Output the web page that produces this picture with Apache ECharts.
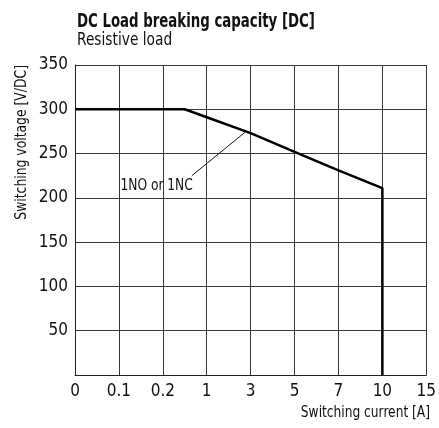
<!DOCTYPE html>
<html>
<head>
<meta charset="utf-8">
<script src="https://cdn.jsdelivr.net/npm/echarts@6/dist/echarts.min.js"></script>
<style>
html,body{margin:0;padding:0;background:#fff;}
#c{width:439px;height:428px;}
</style>
</head>
<body>
<div id="c"></div>
<script>
// Category tick labels on the x axis (evenly spaced, non-linear)
var xTickLabels = ['0', '0.1', '0.2', '1', '3', '5', '7', '10', '15'];
// Curve points: [x position (tick index), voltage V/DC]
var curveX = [0, 2.5, 3, 4, 5, 6, 7, 7];
var curveY = [300, 300, 291, 273, 252, 231, 211, 0];
// Annotation leader line points and label
var leaderX = [2.66, 3.87];
var leaderY = [225, 274];
var annotationText = '1NO or 1NC';
var titleText = 'DC Load breaking capacity [DC]';
var subtitleText = 'Resistive load';
var yAxisTitle = 'Switching voltage [V/DC]';
var xAxisTitle = 'Switching current [A]';

var FONT = '"DejaVu Sans Condensed", "DejaVu Sans", sans-serif';

var curve = curveX.map(function (x, i) { return [x, curveY[i]]; });
var leader = leaderX.map(function (x, i) { return [x, leaderY[i]]; });

var chart = echarts.init(document.getElementById('c'), null, {renderer: 'canvas'});
chart.setOption({
  animation: false,
  backgroundColor: '#fff',
  grid: {left: 75, right: 9, top: 65, bottom: 53, containLabel: false},
  xAxis: {
    type: 'value',
    min: 0, max: 8, interval: 1,
    axisLine: {show: true, lineStyle: {color: '#222', width: 1}},
    axisTick: {show: false},
    splitLine: {show: true, lineStyle: {color: '#383838', width: 1}},
    axisLabel: {
      margin: 8,
      fontFamily: FONT, fontSize: 17, color: '#111',
      formatter: function (v) { return xTickLabels[Math.round(v)]; }
    }
  },
  yAxis: {
    type: 'value',
    min: 0, max: 350, interval: 50,
    axisLine: {show: true, lineStyle: {color: '#222', width: 1}},
    axisTick: {show: false},
    splitLine: {show: true, lineStyle: {color: '#383838', width: 1}},
    axisLabel: {
      margin: 7,
      fontFamily: FONT, fontSize: 17, color: '#111',
      formatter: function (v) { return v === 0 ? '' : String(v); }
    }
  },
  graphic: [
    {
      type: 'text', z: 100, id: 'title',
      x: 77, y: 22, scaleX: 0.74,
      style: {text: titleText, fontFamily: FONT, fontSize: 20, fontWeight: 'bold', fill: '#111', align: 'left', verticalAlign: 'middle'}
    },
    {
      type: 'text', z: 100, id: 'subtitle',
      x: 77, y: 40, scaleX: 0.85,
      style: {text: subtitleText, fontFamily: FONT, fontSize: 18, fill: '#111', align: 'left', verticalAlign: 'middle'}
    },
    {
      type: 'text', z: 100,
      x: 22, y: 65, rotation: Math.PI / 2, scaleX: 0.86,
      style: {text: yAxisTitle, fontFamily: FONT, fontSize: 16, fill: '#111', align: 'right', verticalAlign: 'middle'}
    },
    {
      type: 'text', z: 100,
      x: 430, y: 413, scaleX: 0.85,
      style: {text: xAxisTitle, fontFamily: FONT, fontSize: 16, fill: '#111', align: 'right', verticalAlign: 'middle'}
    }
  ],
  series: [
    {
      type: 'line',
      data: curve,
      symbol: 'none',
      lineStyle: {color: '#000', width: 2.5},
      z: 10
    },
    {
      type: 'line',
      data: leader,
      symbol: 'none',
      lineStyle: {color: '#111', width: 1},
      z: 9
    }
  ]
});

// Place the annotation text next to the start of the leader line, via the chart's own scales
var p = chart.convertToPixel({seriesIndex: 1}, leader[0]);
chart.setOption({
  graphic: [{
    type: 'text', z: 100, id: 'annot',
    x: p[0] + 1, y: p[1] + 10, scaleX: 0.85,
    style: {text: annotationText, fontFamily: FONT, fontSize: 16, fill: '#111', align: 'right', verticalAlign: 'middle'}
  }]
});
</script>
</body>
</html>
